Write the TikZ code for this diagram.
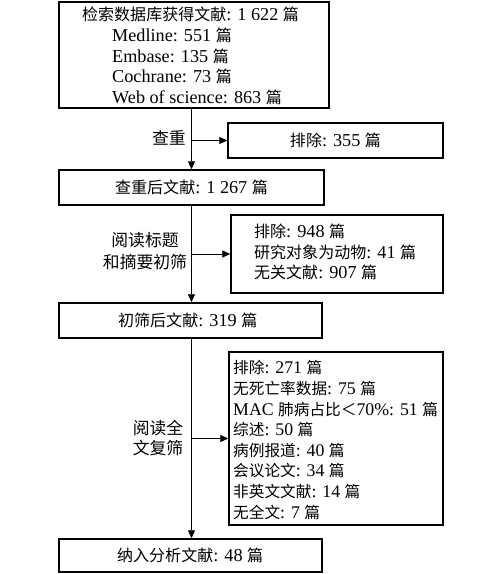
\documentclass[tikz,border=0pt]{standalone}
\usepackage{fontspec}
\setmainfont{Liberation Serif}
\newfontfamily\cjkfont[Scale=0.88]{Noto Sans CJK SC}
\newcommand\zhs[1]{{\cjkfont #1}}
\usetikzlibrary{arrows.meta}
\begin{document}
\begin{tikzpicture}[x=1pt,y=-1pt,
  box/.style={draw, line width=1.5pt, inner sep=0pt},
  txt/.style={anchor=west, align=left, inner sep=0pt},
  lbl/.style={align=center, inner sep=0pt, font=\fontsize{19.1}{21}\selectfont},
  arr/.style={-{Triangle[length=8pt,width=7pt]}, line width=0.8pt},
  font=\fontsize{18.2}{20.6}\selectfont]
\useasboundingbox (0,0) rectangle (500,574);
% main boxes
\node[box, minimum width=270pt, minimum height=106pt] (top) at (194,55) {};
\node[txt] (toptxt) at (82,56) {\zhs{检索数据库获得文献}: 1 622 \zhs{篇}\\
\hspace{30pt}Medline: 551 \zhs{篇}\\
\hspace{30pt}Embase: 135 \zhs{篇}\\
\hspace{30pt}Cochrane: 73 \zhs{篇}\\
\hspace{30pt}Web of science: 863 \zhs{篇}};
\node[box, minimum width=265pt, minimum height=35pt] (b2) at (191.5,187.5) {};
\node[txt] (b2txt) at (115,187.5) {\zhs{查重后文献}: 1 267 \zhs{篇}};
\node[box, minimum width=263pt, minimum height=35pt] (b4) at (190.5,320.5) {};
\node[txt] (b4txt) at (118,320.5) {\zhs{初筛后文献}: 319 \zhs{篇}};
\node[box, minimum width=263pt, minimum height=33pt] (b6) at (190.5,555.5) {};
\node[txt] (b6txt) at (117,555.5) {\zhs{纳入分析文献}: 48 \zhs{篇}};
% exclusion boxes
\node[box, minimum width=215pt, minimum height=35pt] (ex1) at (335.5,140.5) {\zhs{排除}: 355 \zhs{篇}};
\node[box, minimum width=212pt, minimum height=78pt] (ex2) at (337,254) {};
\node[txt] (ex2txt) at (254,252) {\zhs{排除}: 948 \zhs{篇}\\
\zhs{研究对象为动物}: 41 \zhs{篇}\\
\zhs{无关文献}: 907 \zhs{篇}};
\node[box, minimum width=214pt, minimum height=173pt] (ex3) at (336,438.5) {};
\node[txt, font=\fontsize{17.8}{20.6}\selectfont] (ex3txt) at (233,440) {\zhs{排除}: 271 \zhs{篇}\\
\zhs{无死亡率数据}: 75 \zhs{篇}\\
MAC \zhs{肺病占比＜}70\%: 51 \zhs{篇}\\
\zhs{综述}: 50 \zhs{篇}\\
\zhs{病例报道}: 40 \zhs{篇}\\
\zhs{会议论文}: 34 \zhs{篇}\\
\zhs{非英文文献}: 14 \zhs{篇}\\
\zhs{无全文}: 7 \zhs{篇}};
% labels
\node[lbl, anchor=east] (l1) at (186,138) {\zhs{查重}};
\node[lbl, font=\fontsize{19.1}{22}\selectfont] (l2) at (145,251) {\zhs{阅读标题}\\\zhs{和摘要初筛}};
\node[lbl, font=\fontsize{19.1}{20}\selectfont] (l3) at (158,438) {\zhs{阅读全}\\\zhs{文复筛}};
% connectors
\draw[arr] (top.south -| b2.north) -- (b2.north);
\draw[arr] (b2.south) -- (b2.south |- b4.north);
\draw[arr] (b2.south |- b4.south) -- (b2.south |- b6.north);
\coordinate (j1) at (b2.north |- ex1.west);
\coordinate (j2) at (b2.north |- ex2.west);
\coordinate (j3) at (b2.north |- ex3.west);
\draw[arr] (j1) -- (ex1.west);
\draw[arr] (j2) -- (ex2.west);
\draw[arr] (j3) -- (ex3.west);
\end{tikzpicture}
\end{document}
